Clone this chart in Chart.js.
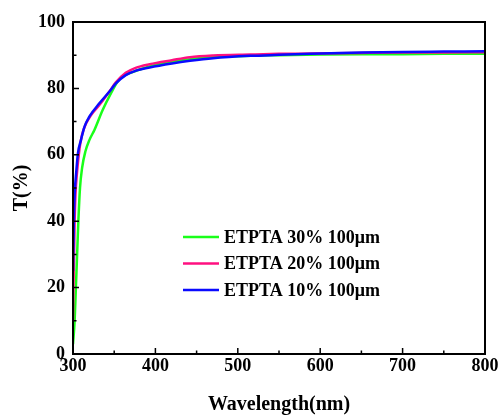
<!DOCTYPE html>
<html>
<head>
<meta charset="utf-8">
<script src="https://cdn.jsdelivr.net/npm/chart.js@4"></script>
<style>
html,body{margin:0;padding:0;background:#fff;}
#wrap{width:503px;height:417px;}
</style>
</head>
<body>
<div id="wrap"><canvas id="c" width="503" height="417"></canvas></div>
<script>
// ---- data ----
const seriesLabels = ["ETPTA 30% 100\u03bcm", "ETPTA 20% 100\u03bcm", "ETPTA 10% 100\u03bcm"];
const seriesColors = ["#19ff19", "#ff1080", "#0a0aff"];

const wl30 = [300, 302, 303.5, 305, 306.5, 308.5, 311, 315, 320, 326, 336, 346, 354, 360, 373, 393, 420, 450, 500, 550, 600, 650, 700, 750, 800];
const t30  = [3, 10, 20, 30, 40, 50, 56, 61, 64.5, 67.5, 73.5, 78.5, 82, 83.6, 85, 86.6, 88, 89, 89.7, 90, 90.2, 90.3, 90.3, 90.4, 90.4];

const wl20 = [300, 300.5, 302, 303, 305, 308, 311, 316, 322, 332, 344, 352, 364, 376, 393, 420, 442, 470, 515, 550, 588, 650, 700, 750, 800];
const t20  = [10, 20, 40, 48, 55, 62, 66, 69.5, 72, 75, 79, 81.8, 84.7, 86.2, 87.3, 88.5, 89.4, 89.9, 90.2, 90.4, 90.5, 90.7, 90.8, 90.8, 90.9];

const wl10 = [300, 301, 302, 304, 306, 309.7, 314, 319.8, 332, 344, 352, 364, 376, 393, 420, 442, 470, 515, 550, 588, 650, 700, 750, 800];
const t10  = [25, 40, 48, 55, 60.5, 64.5, 68.5, 71.5, 75.5, 79, 81.5, 84, 85.3, 86.3, 87.5, 88.3, 89.1, 89.8, 90.1, 90.4, 90.8, 91.0, 91.1, 91.2];

const xMin = 300, xMax = 800, xMajor = 100, xMinor = 50;
const yMin = 0, yMax = 100, yMajor = 20, yMinor = 10;

function pts(xs, ys){ return xs.map((x,i)=>({x:x, y:ys[i]})); }

const FONT = "'Liberation Serif','Times New Roman',serif";

// frame + inward ticks
const framePlugin = {
  id: 'frame',
  afterDatasetsDraw(chart){
    const {ctx, chartArea:a, scales:{x, y}} = chart;
    ctx.save();
    ctx.strokeStyle = '#000';
    ctx.lineWidth = 2;
    ctx.strokeRect(a.left, a.top, a.right - a.left, a.bottom - a.top);
    ctx.lineWidth = 1.5;
    ctx.beginPath();
    for (let v = xMin; v <= xMax; v += xMinor){
      const px = x.getPixelForValue(v);
      const len = (v % xMajor === 0) ? 6 : 3.5;
      if (v === xMin || v === xMax) continue;
      ctx.moveTo(px, a.bottom); ctx.lineTo(px, a.bottom - len);
    }
    for (let v = yMin; v <= yMax; v += yMinor){
      const py = y.getPixelForValue(v);
      const len = (v % yMajor === 0) ? 6 : 3.5;
      if (v === yMin || v === yMax) continue;
      ctx.moveTo(a.left, py); ctx.lineTo(a.left + len, py);
    }
    ctx.stroke();
    ctx.restore();
  }
};

// legend drawn inside the plot area
const legendPlugin = {
  id: 'innerLegend',
  afterDraw(chart){
    const {ctx, chartArea:a} = chart;
    ctx.save();
    ctx.font = "bold 18px " + FONT;
    ctx.textBaseline = 'middle';
    ctx.fillStyle = '#000';
    const x0 = a.left + 110, x1 = a.left + 146, tx = a.left + 151;
    const rows = [a.top + 215, a.top + 241.5, a.top + 268];
    seriesLabels.forEach((lab, i) => {
      ctx.strokeStyle = seriesColors[i];
      ctx.lineWidth = 2.5;
      ctx.beginPath(); ctx.moveTo(x0, rows[i]); ctx.lineTo(x1, rows[i]); ctx.stroke();
      ctx.fillText(lab, tx, rows[i] + 1);
    });
    ctx.restore();
  }
};

const data = {
  datasets: [
    // index 0 is drawn on top
    {label: seriesLabels[2], data: pts(wl10, t10), borderColor: seriesColors[2]},
    {label: seriesLabels[1], data: pts(wl20, t20), borderColor: seriesColors[1]},
    {label: seriesLabels[0], data: pts(wl30, t30), borderColor: seriesColors[0]}
  ].map(d => Object.assign(d, {borderWidth: 2.5, pointRadius: 0, fill: false, cubicInterpolationMode: 'monotone'}))
};

new Chart(document.getElementById('c'), {
  type: 'line',
  data: data,
  plugins: [framePlugin, legendPlugin],
  options: {
    responsive: false,
    animation: false,
    devicePixelRatio: 1,
    layout: {padding: {top: 22, right: 18, left: 0, bottom: 0}},
    plugins: {legend: {display: false}, tooltip: {enabled: false}},
    scales: {
      x: {
        type: 'linear', min: xMin, max: xMax,
        border: {display: false},
        grid: {display: false, drawTicks: false},
        ticks: {stepSize: xMajor, padding: 2, color: '#000', font: {family: FONT, size: 18, weight: 'bold'}, maxRotation: 0},
        title: {display: true, text: 'Wavelength(nm)', color: '#000', font: {family: FONT, size: 20, weight: 'bold'}, padding: {top: 0, bottom: 0}},
        afterFit(s){ s.height = 63; }
      },
      y: {
        type: 'linear', min: yMin, max: yMax,
        border: {display: false},
        grid: {display: false, drawTicks: false},
        ticks: {stepSize: yMajor, padding: 8, color: '#000', font: {family: FONT, size: 18, weight: 'bold'}},
        title: {display: true, text: 'T(%)', color: '#000', font: {family: FONT, size: 20, weight: 'bold'}, padding: {top: 10, bottom: 0}},
        afterFit(s){ s.width = 73; }
      }
    }
  }
});
</script>
</body>
</html>
